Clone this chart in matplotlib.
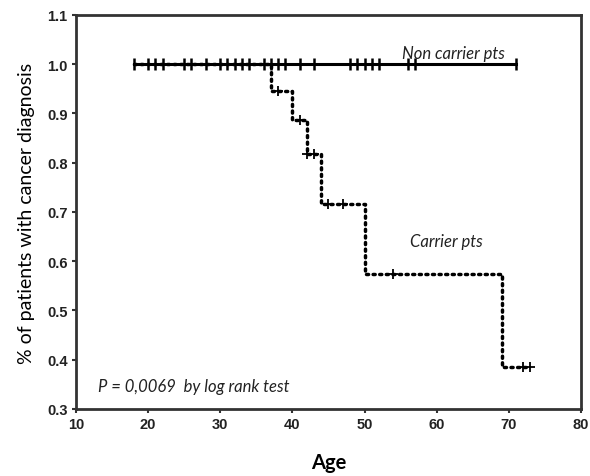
import matplotlib.pyplot as plt
import numpy as np

# Kaplan-Meier curves
noncarrier_start = 18
noncarrier_end = 71
noncarrier_censored = [18, 20, 21, 22, 25, 26, 28, 30, 31, 32, 33, 34, 36, 37, 38,
                       39, 41, 43, 48, 49, 50, 51, 52, 56, 57, 71]

carrier_times = [18, 37, 40, 42, 44, 50, 69, 73]
carrier_surv = [1.0, 0.945, 0.886, 0.817, 0.716, 0.575, 0.385, 0.385]
carrier_censored = [38, 41, 42, 43, 45, 47, 54, 72, 73]

x_ticks = [10, 20, 30, 40, 50, 60, 70, 80]
y_ticks = [0.3, 0.4, 0.5, 0.6, 0.7, 0.8, 0.9, 1.0, 1.1]


def surv_at(t):
    idx = np.searchsorted(carrier_times, t, side="right") - 1
    return carrier_surv[idx]


fig = plt.figure(figsize=(5.9, 4.77), dpi=100)
ax = fig.add_axes([0.1288, 0.1405, 0.8559, 0.826])

ax.step(carrier_times, carrier_surv, where="post", color="black",
        linestyle=(0, (0.6, 1.3)), linewidth=2.5, dash_capstyle="round", zorder=2)
ax.plot(carrier_censored, [surv_at(t) for t in carrier_censored], linestyle="none",
        marker="+", markersize=7, markeredgewidth=1.3, color="black", zorder=3)

ax.plot([noncarrier_start, noncarrier_end], [1.0, 1.0], color="black",
        linewidth=2.2, zorder=4)
ax.plot(noncarrier_censored, [1.0] * len(noncarrier_censored), linestyle="none",
        marker="|", markersize=8, markeredgewidth=1.8, color="black", zorder=5)

txt = dict(family="Lato", style="italic", color="#222222")
ax.text(62.3, 1.022, "Non carrier pts", ha="center", va="center", fontsize=12, **txt)
ax.text(61.4, 0.641, "Carrier pts", ha="center", va="center", fontsize=12, **txt)
ax.text(13.0, 0.347, "P = 0,0069  by log rank test", ha="left", va="center",
        fontsize=12, **txt)

ax.set_xlim(10, 80)
ax.set_ylim(0.3, 1.1)
ax.set_xticks(x_ticks)
ax.set_yticks(y_ticks)
ax.set_xticklabels([str(v) for v in x_ticks], family="Liberation Sans",
                   fontweight="bold", fontsize=10.5, color="#222222")
ax.set_yticklabels([f"{v:.1f}" for v in y_ticks], family="Liberation Sans",
                   fontweight="bold", fontsize=10.5, color="#222222")
ax.tick_params(direction="out", length=3, width=1.5, color="#333333", pad=3)

for side in ["top", "right", "bottom", "left"]:
    ax.spines[side].set_linewidth(2)
    ax.spines[side].set_color("#333333")

ax.set_ylabel("% of patients with cancer diagnosis", family="Lato", fontsize=14,
              labelpad=9)
ax.set_xlabel("Age", family="Lato", fontweight="bold", fontsize=14.5, labelpad=15)

fig.savefig("out.png", dpi=100, facecolor="white")
